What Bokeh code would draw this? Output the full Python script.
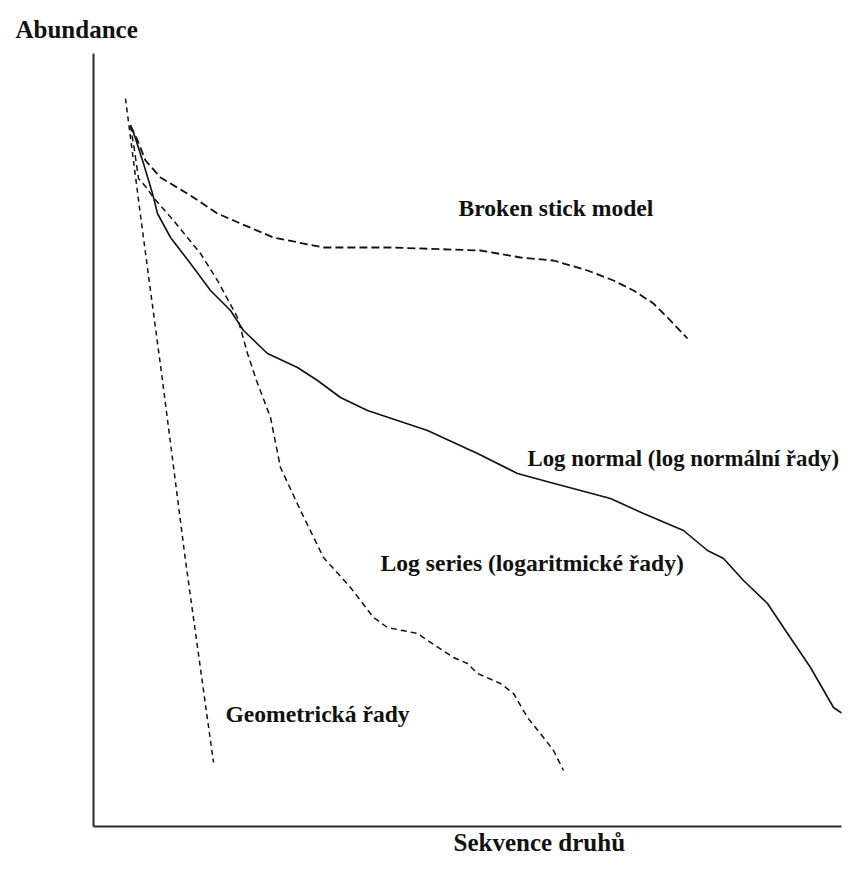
from bokeh.plotting import figure
from bokeh.models import Range1d, Label, FixedTicker, Title
from bokeh.embed import file_html
from bokeh.resources import INLINE

# Species rank sequence (x) and abundance (y), arbitrary units
geo_x = [30, 45, 67, 90, 118]
geo_y = [727, 610, 445, 265, 63]

logser_x = [35, 39, 43, 50, 58, 78, 105, 122, 142, 152, 161, 175, 185, 205, 228, 255,
            278, 292, 322, 332, 358, 372, 382, 405, 418, 432, 448, 458, 468]
logser_y = [700, 675, 647, 639, 628, 605, 572, 545, 508, 472, 445, 408, 358, 315, 268, 238,
            208, 198, 192, 185, 168, 162, 152, 142, 132, 108, 88, 75, 55]

broken_x = [35, 42, 50, 65, 95, 122, 145, 178, 228, 295, 385, 425, 458, 492, 518, 538, 558, 572, 592]
broken_y = [700, 685, 665, 648, 630, 612, 602, 588, 578, 578, 575, 568, 565, 555, 545, 535, 522, 508, 487]

lognorm_x = [35, 38, 48, 57, 62, 75, 95, 115, 135, 148, 172, 202, 222, 245, 272, 332, 382, 422,
             455, 515, 548, 588, 612, 628, 648, 672, 688, 715, 738, 747]
lognorm_y = [700, 693, 662, 632, 612, 588, 562, 535, 515, 495, 472, 458, 445, 428, 415, 395, 372, 352,
             343, 327, 312, 295, 275, 267, 245, 222, 198, 158, 118, 112]

y_title = "Abundance"
x_title = "Sekvence druhů"
labels = ["Broken stick model", "Log normal (log normální řady)",
          "Log series (logaritmické řady)", "Geometrická řady"]
label_x = [363, 432, 285, 130]
label_y = [618, 367, 263, 112]
label_size = ["23.6px", "22.8px", "23.6px", "23.6px"]

ink = "#111111"
FONT = "Liberation Serif"

p = figure(width=852, height=856, output_backend="svg", toolbar_location=None,
           x_range=Range1d(-2, 746), y_range=Range1d(-1, 772),
           min_border_left=93, min_border_right=11, min_border_top=53, min_border_bottom=30)
p.outline_line_color = None
p.xgrid.visible = False
p.ygrid.visible = False
p.background_fill_color = "white"
p.border_fill_color = "white"

for ax in (p.xaxis[0], p.yaxis[0]):
    ax.ticker = FixedTicker(ticks=[])
    ax.major_tick_line_color = None
    ax.minor_tick_line_color = None
    ax.major_tick_in = 0
    ax.major_tick_out = 0
    ax.major_label_standoff = 0
    ax.major_label_text_font_size = "0px"
    ax.axis_line_color = "#2a2a2a"
    ax.axis_line_width = 2

p.line(geo_x, geo_y, line_color=ink, line_width=1.5, line_dash="5 4")
p.line(logser_x, logser_y, line_color=ink, line_width=1.5, line_dash="6 4")
p.line(broken_x, broken_y, line_color=ink, line_width=1.8, line_dash="8 4")
p.line(lognorm_x, lognorm_y, line_color=ink, line_width=1.6)

for t, x, y, fs in zip(labels, label_x, label_y, label_size):
    p.add_layout(Label(x=x, y=y, text=t, text_font=FONT, text_font_style="bold",
                       text_font_size=fs, text_color=ink, text_baseline="alphabetic"))

top_title = Title(text=y_title, align="left", offset=-78, standoff=22, text_line_height=0.8,
                  text_font=FONT, text_font_style="bold", text_font_size="25px", text_color=ink)
p.add_layout(top_title, "above")
bottom_title = Title(text=x_title, align="left", offset=360, standoff=0,
                     text_font=FONT, text_font_style="bold", text_font_size="25px", text_color=ink)
p.add_layout(bottom_title, "below")

open("out.html", "w").write(file_html(p, INLINE))
